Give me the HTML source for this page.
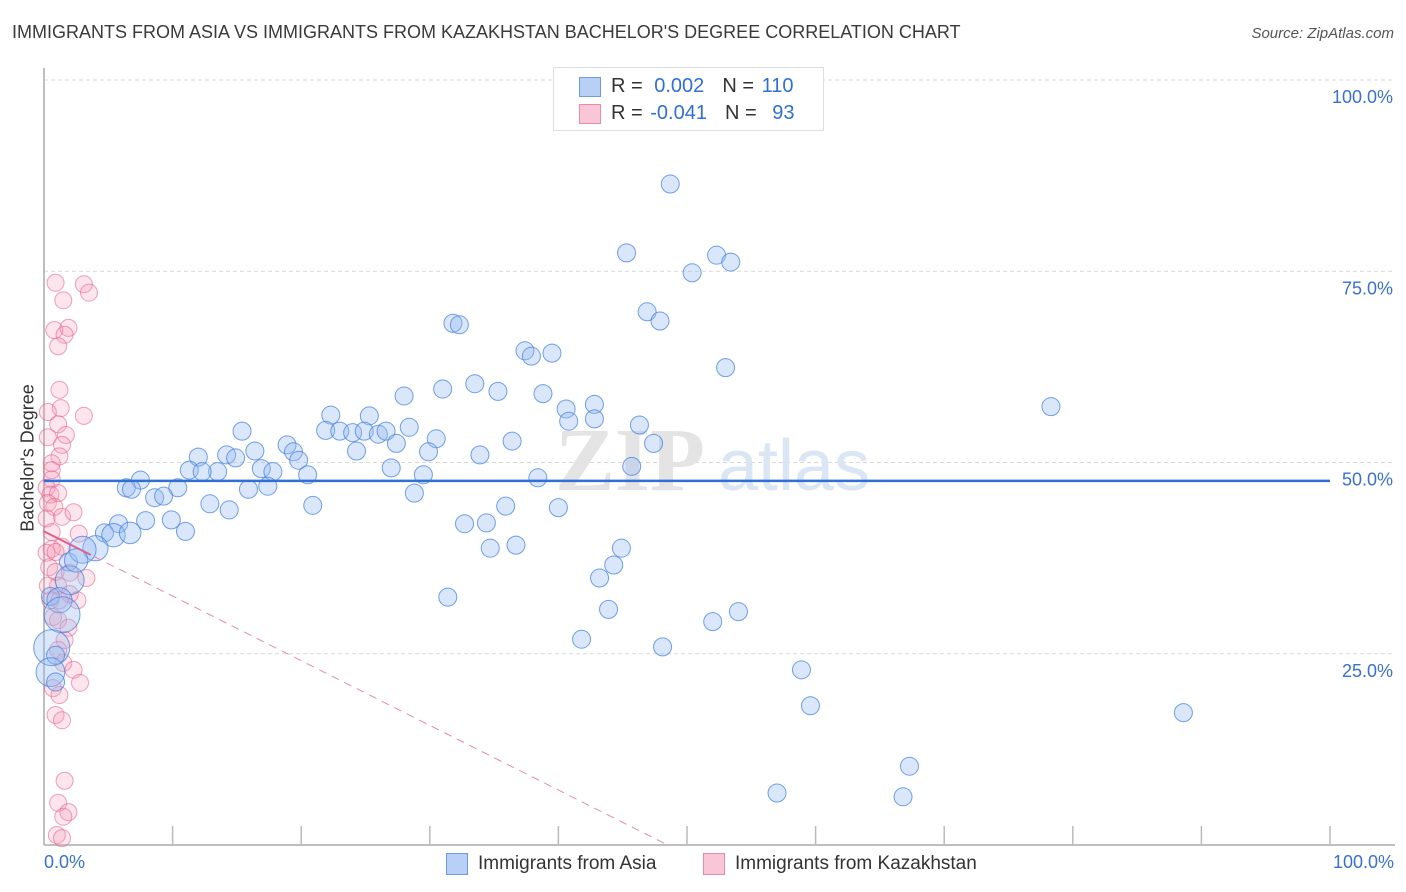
<!DOCTYPE html>
<html><head><meta charset="utf-8"><style>
body{margin:0;background:#fff;font-family:"Liberation Sans",sans-serif;}
#wrap{position:relative;width:1406px;height:892px;overflow:hidden;}
.t{position:absolute;white-space:nowrap;}
</style></head><body>
<div id="wrap">
<div class="t" style="left:12px;top:22px;font-size:18px;color:#3a3a3a;">IMMIGRANTS FROM ASIA VS IMMIGRANTS FROM KAZAKHSTAN BACHELOR'S DEGREE CORRELATION CHART</div>
<div class="t" style="right:12px;top:25px;font-size:15px;color:#555;font-style:italic;">Source: ZipAtlas.com</div>
<svg id="svg" width="1406" height="892" style="position:absolute;left:0;top:0"></svg>
</div>
<script>
const asiaX=[48.7,45.3,52.3,53.4,50.4,46.9,47.9,31.8,32.3,37.4,37.9,39.5,53.0,28.0,31.0,33.5,35.3,38.8,78.3,22.3,25.3,42.8,40.6,42.8,40.8,46.3,15.4,21.9,23.0,24.0,24.9,26.0,26.6,28.4,27.4,30.5,36.4,47.4,18.9,24.3,16.4,12.0,14.2,14.9,19.4,19.8,29.9,33.9,11.3,16.9,13.5,12.3,17.8,20.5,27.0,29.5,45.7,38.4,7.5,6.4,6.8,10.4,15.9,17.4,8.6,9.3,28.8,20.9,12.9,14.4,35.9,40.0,7.9,9.9,5.8,32.7,34.4,11.0,4.7,5.4,6.7,4.0,34.7,36.7,44.9,44.3,43.2,1.9,2.0,0.5,1.2,1.4,31.4,43.9,54.0,52.0,41.8,48.1,0.6,0.9,58.9,0.5,0.9,59.6,88.6,67.3,57.0,66.8,3.0,2.5];
const asiaY=[86.4,77.4,77.1,76.2,74.8,69.7,68.5,68.2,68.0,64.6,63.9,64.3,62.4,58.7,59.6,60.3,59.3,59.0,57.3,56.2,56.1,57.6,57.0,55.7,55.4,54.9,54.1,54.2,54.1,53.9,54.1,53.7,54.1,54.6,52.5,53.1,52.8,52.5,52.3,51.5,51.5,50.7,51.0,50.6,51.4,50.3,51.4,51.0,49.0,49.2,48.8,48.8,48.8,48.4,49.3,48.4,49.5,48.0,47.7,46.7,46.5,46.7,46.5,46.9,45.4,45.6,46.0,44.4,44.6,43.8,44.3,44.1,42.4,42.5,42.0,42.0,42.1,41.0,40.8,40.5,40.8,38.8,38.8,39.2,38.8,36.6,34.9,37.0,34.6,32.5,32.0,30.1,32.4,30.8,30.5,29.2,26.9,25.9,25.8,24.8,22.9,22.6,21.3,18.2,17.3,10.3,6.8,6.3,38.6,37.2];
const asiaW=[1,1,1,1,1,1,1,1,1,1,1,1,1,1,1,1,1,1,1,1,1,1,1,1,1,1,1,1,1,1,1,1,1,1,1,1,1,1,1,1,1,1,1,1,1,1,1,1,1,1,1,1,1,1,1,1,1,1,1,1,1,1,1,1,1,1,1,1,1,1,1,1,1,1,1,1,1,1,1,1.3,1.2,1.4,1,1,1,1,1,1,1.6,1,1.4,2,1,1,1,1,1,1,2,1,1,1.6,1,1,1,1,1,1,1.5,1.3];
const kazX=[0.9,3.1,3.5,1.5,0.8,1.9,1.6,1.1,1.2,1.3,3.1,0.3,1.1,1.7,1.4,0.3,1.2,0.6,0.6,0.6,0.2,0.5,1.1,0.3,0.8,1.4,2.3,0.2,0.6,2.7,1.4,0.6,0.2,0.9,0.4,0.9,1.1,3.3,2.0,0.3,0.5,2.0,1.2,2.6,0.7,1.1,1.9,1.6,1.1,1.5,2.3,2.8,0.7,1.2,0.9,1.4,1.6,1.1,1.9,1.5,1.0,1.4];
const kazY=[73.5,73.3,72.2,71.2,67.3,67.6,66.7,65.2,59.5,57.1,56.1,56.6,55.0,53.6,52.3,53.3,50.8,49.9,49.0,47.8,46.7,45.8,46.0,44.7,44.2,42.9,43.5,42.7,40.9,40.7,39.0,38.7,38.2,38.3,36.3,35.7,33.9,34.9,35.6,33.9,32.0,32.8,32.0,32.0,29.8,29.4,28.4,26.8,25.5,23.8,22.9,21.2,20.5,19.6,17.0,16.3,8.4,5.5,4.3,3.7,1.3,0.9];
const asiaTrend=[47.6,47.6];
const kazTrend=[41.0,0];
const kazTrendX=[0,48.5];
const yTicks=[100,75,50,25];
const yTickLabels=["100.0%","75.0%","50.0%","25.0%"];

const X0=44,X1=1330,Y0=845,Y1=80;
const sx=v=>X0+v*(X1-X0)/100;
const sy=v=>Y0-v*(Y0-Y1)/100;
const NS="http://www.w3.org/2000/svg";
const svg=document.getElementById('svg');
function mk(tag,attrs,parent){const e=document.createElementNS(NS,tag);for(const k in attrs)e.setAttribute(k,attrs[k]);(parent||svg).appendChild(e);return e;}

// gridlines + y labels
yTicks.forEach((v,i)=>{
  const g=mk('line',{x1:X0,x2:1395,y1:sy(v),y2:sy(v),stroke:'#d8d8d8','stroke-dasharray':'4,3'});
  
  
  const t=mk('text',{x:1393,y:sy(v)+23,'text-anchor':'end','font-size':18,fill:'#3a70d0','font-family':'Liberation Sans, sans-serif'});
  t.textContent=yTickLabels[i];
  
  
});
// watermark
const wm=mk('text',{x:555,y:490,'font-size':90,fill:'#e4e4e4','font-family':'Liberation Serif, serif','font-weight':'bold'});
wm.textContent='ZIP';


const wm2=mk('text',{x:718,y:490,'font-size':72,fill:'#dbe6f5','font-family':'Liberation Sans, sans-serif'});
wm2.textContent='atlas';


// axes
const ax=mk('line',{x1:X0,x2:X0,y1:68,y2:Y0,stroke:'#aaa','stroke-width':1.5});


const bx=mk('line',{x1:X0,x2:1395,y1:Y0,y2:Y0,stroke:'#aaa','stroke-width':1.5});


for(let i=1;i<=10;i++){
  const tk=mk('line',{x1:sx(i*10),x2:sx(i*10),y1:Y0-19,y2:Y0,stroke:'#bbb','stroke-width':1.5});
  
  
}
// kaz points
kazX.forEach((v,i)=>{
  const c=mk('circle',{cx:sx(v),cy:sy(kazY[i]),r:8.5,fill:'rgba(244,150,180,0.25)',stroke:'rgba(230,100,140,0.6)','stroke-width':1});
  
  
});
// asia points
asiaX.forEach((v,i)=>{
  const c=mk('circle',{cx:sx(v),cy:sy(asiaY[i]),r:9*asiaW[i],fill:'rgba(150,185,240,0.35)',stroke:'rgba(70,130,220,0.75)','stroke-width':1});
  
  
});
// trends
const bl=mk('line',{x1:sx(0),x2:sx(100),y1:sy(asiaTrend[0]),y2:sy(asiaTrend[1]),stroke:'#2f6fd6','stroke-width':2.5});


const pl=mk('line',{x1:sx(kazTrendX[0]),x2:sx(kazTrendX[1]),y1:sy(kazTrend[0]),y2:sy(kazTrend[1]),stroke:'#e88aa8','stroke-width':1,'stroke-dasharray':'8,6'});


const fr=0.075;
const ps=mk('line',{x1:sx(kazTrendX[0]),x2:sx(kazTrendX[0]+(kazTrendX[1]-kazTrendX[0])*fr),y1:sy(kazTrend[0]),y2:sy(kazTrend[0]+(kazTrend[1]-kazTrend[0])*fr),stroke:'#e06090','stroke-width':2});


</script>
<div class="t" style="left:28px;top:458px;font-size:18px;color:#333;transform:translate(-50%,-50%) rotate(-90deg);transform-origin:center;">Bachelor's Degree</div>
<div class="t" style="left:44px;top:852px;font-size:18px;color:#3a70d0;">0.0%</div>
<div class="t" style="right:12px;top:852px;font-size:18px;color:#3a70d0;">100.0%</div>
<div style="position:absolute;left:553px;top:67px;width:269px;height:62px;border:1px solid #ddd;background:#fff;font-size:20px;">
  <div style="position:absolute;left:25px;top:9px;width:20px;height:18px;background:#b8d0f5;border:1px solid #6f9be0;"></div>
  <div class="t" style="left:57px;top:7px;color:#333;">R = <span style="color:#2f6fd6;margin-left:6px;">0.002</span><span style="margin-left:18px;">N = </span><span style="color:#2f6fd6;margin-left:2px;">110</span></div>
  <div style="position:absolute;left:25px;top:36px;width:20px;height:18px;background:#f8c6d6;border:1px solid #e88aa8;"></div>
  <div class="t" style="left:57px;top:34px;color:#333;">R = <span style="color:#2f6fd6;margin-left:2px;">-0.041</span><span style="margin-left:18px;">N = </span><span style="color:#2f6fd6;margin-left:10px;">93</span></div>
</div>
<div style="position:absolute;left:446px;top:853px;font-size:19px;color:#333;">
  <div style="position:absolute;left:0;top:0;width:20px;height:20px;background:#b8d0f5;border:1px solid #6f9be0;"></div>
  <div class="t" style="left:32px;top:0;">Immigrants from Asia</div>
</div>
<div style="position:absolute;left:703px;top:853px;font-size:19px;color:#333;">
  <div style="position:absolute;left:0;top:0;width:20px;height:20px;background:#f8c6d6;border:1px solid #e88aa8;"></div>
  <div class="t" style="left:32px;top:0;">Immigrants from Kazakhstan</div>
</div>
</body></html>
